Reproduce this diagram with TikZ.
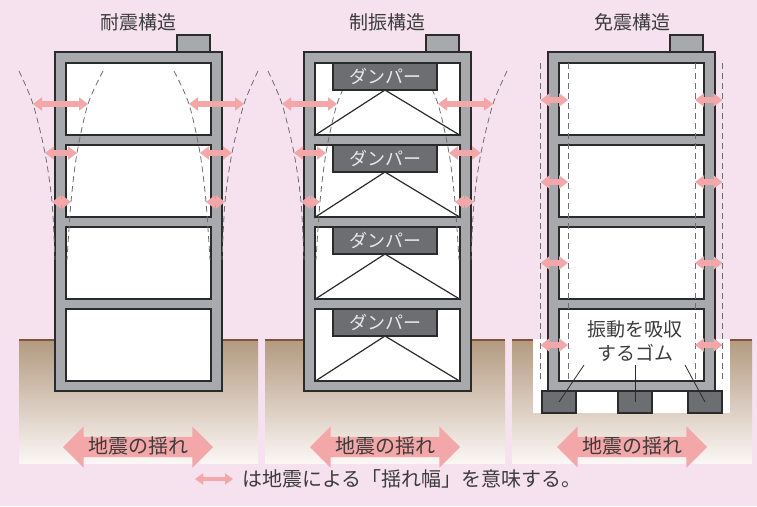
\documentclass[tikz,border=0pt]{standalone}
\usepackage{fontspec}
\newfontfamily\jpfont{Noto Sans CJK JP}
\usetikzlibrary{arrows.meta,shapes.arrows}
\definecolor{momoiro}{HTML}{F5E2EE}
\definecolor{haiiro}{HTML}{A7A9AC}
\definecolor{sumi}{HTML}{2B2B2B}
\definecolor{koihai}{HTML}{6D6E71}
\definecolor{shirohai}{HTML}{E8E8E8}
\definecolor{yajirushi}{HTML}{F4A7A8}
\definecolor{tensen}{HTML}{6E6E6E}
\definecolor{tsuchi}{HTML}{B39A80}
\definecolor{tsuchishita}{HTML}{FBF7F5}
\definecolor{tsuchisen}{HTML}{7B5535}
\definecolor{moji}{HTML}{3C3C3C}

\begin{document}
\begin{tikzpicture}[
    x=1pt, y=-1pt,
    jp/.style={font=\jpfont\fontsize{19}{24}\selectfont, text=moji},
    waku/.style={fill=haiiro, draw=sumi, line width=1.5pt},
    heya/.style={rectangle, fill=white, draw=sumi, line width=1.5pt,
      minimum width=145pt, minimum height=72pt, inner sep=0pt},
    damper/.style={rectangle, fill=koihai, draw=sumi, line width=1.2pt,
      minimum width=104pt, minimum height=27pt, inner sep=0pt,
      font=\jpfont\fontsize{18}{20}\selectfont, text=shirohai},
    gomu/.style={rectangle, fill=koihai, draw=sumi, line width=1.5pt,
      minimum width=34pt, minimum height=22pt, inner sep=0pt},
    yure/.style={dash pattern=on 6pt off 4pt, draw=tensen, line width=0.8pt},
    haba/.style={{Triangle[width=13pt,length=9pt]}-{Triangle[width=13pt,length=9pt]},
      line width=5.5pt, draw=yajirushi},
    sujikai/.style={draw=sumi, line width=1.2pt},
    jishin/.style={jp, font=\jpfont\fontsize{20}{24}\selectfont, double arrow,
      double arrow head extend=10.5pt, minimum height=150pt, fill=yajirushi,
      text height=15pt, text depth=3pt, inner ysep=1pt},
    jimen/.style={top color=tsuchi, bottom color=tsuchishita},
    jimensen/.style={draw=tsuchisen, line width=1.8pt}
  ]
    \fill[momoiro] (0,0) rectangle (757,506);
    \useasboundingbox (0,0) rectangle (757,506);

    % ground under the three buildings
    \foreach \a/\b in {19/258, 265/505, 512/752}{
      \shade[jimen] (\a,340) rectangle (\b,463);
      \draw[jimensen] (\a,340) -- (\b,340);
    }
    \fill[white] (533,338.5) rectangle (730,413);

    \node[jp] (midashi1) at (138,22) {耐震構造};
    \node[jp] (midashi2) at (387,22) {制振構造};
    \node[jp] (midashi3) at (632,22) {免震構造};

    % frames and rooms
    \foreach \x in {55,304,548}{
      \draw[waku] (\x+122,35) rectangle (\x+155,52);
      \draw[waku] (\x,52) rectangle (\x+167,391);
    }
    \foreach \b/\x in {1/55,2/304,3/548}
      \foreach \i in {1,...,4}
        \node[heya] (heya\b\i) at (\x+83.5,17+82*\i) {};

    \node[gomu] (gomu1) at (559,402) {};
    \node[gomu] (gomu2) at (635,402) {};
    \node[gomu] (gomu3) at (705,402) {};

    % braces under the dampers
    \foreach \i in {1,...,4}{
      \coordinate (choten\i) at (385,8+82*\i);
      \draw[sujikai] (heya2\i.south west) -- (choten\i) -- (heya2\i.south east);
    }

    % sway lines, left and right halves
    \foreach \cx in {138.5,387.5}
      \foreach \s in {1,-1}{
        \begin{scope}[shift={(\cx,0)}, xscale=\s]
          \draw[yure] plot[smooth] coordinates
            {(-119.5,71) (-105.5,104) (-93.5,153) (-86.5,202) (-83.5,260)};
          \draw[yure] plot[smooth] coordinates
            {(-35.5,71) (-50.5,104) (-61.5,153) (-67.5,202) (-71.5,260)};
          \foreach \y/\p/\q in {104/-105.5/-50.5, 153/-93.5/-61.5, 202/-86.5/-67.5}
            \draw[haba] (\p,\y) -- (\q,\y);
        \end{scope}
      }

    \foreach \i in {1,...,4}
      \node[damper] (damper\i) at (385,-5.5+82*\i) {ダンパー};

    \foreach \s in {1,-1}{
      \begin{scope}[shift={(631.5,0)}, xscale=\s]
        \draw[yure] (-91,63) -- (-91,380);
        \draw[yure] (-63.5,63) -- (-63.5,380);
        \foreach \y in {100,182,263,345}
          \draw[haba] (-91,\y) -- (-63.5,\y);
      \end{scope}
    }

    % rubber bearings
    \node[jp, align=center] (gomusetsumei) at (635,341) {振動を吸収\\するゴム};
    \coordinate (hikidashi1) at (584,365);
    \coordinate (hikidashi2) at (635,365);
    \coordinate (hikidashi3) at (685,365);
    \draw[sumi, line width=0.8pt] (hikidashi1) -- (gomu1.center);
    \draw[sumi, line width=0.8pt] (hikidashi2) -- (gomu2.center);
    \draw[sumi, line width=0.8pt] (hikidashi3) -- (gomu3.center);

    \node[jishin] (jishin1) at (138,447) {地震の揺れ};
    \node[jishin] (jishin2) at (385,447) {地震の揺れ};
    \node[jishin] (jishin3) at (632,447) {地震の揺れ};

    % legend
    \coordinate (hanreiA) at (195,479);
    \coordinate (hanreiB) at (233,479);
    \draw[haba, line width=4.5pt,
      {Triangle[width=11pt,length=8pt]}-{Triangle[width=11pt,length=8pt]}]
      (hanreiA) -- (hanreiB);
    \node[jp, font=\jpfont\fontsize{20}{24}\selectfont, anchor=west] (hanrei)
      at (239,479) {は地震による「揺れ幅」を意味する。};
  \end{tikzpicture}
\end{document}
